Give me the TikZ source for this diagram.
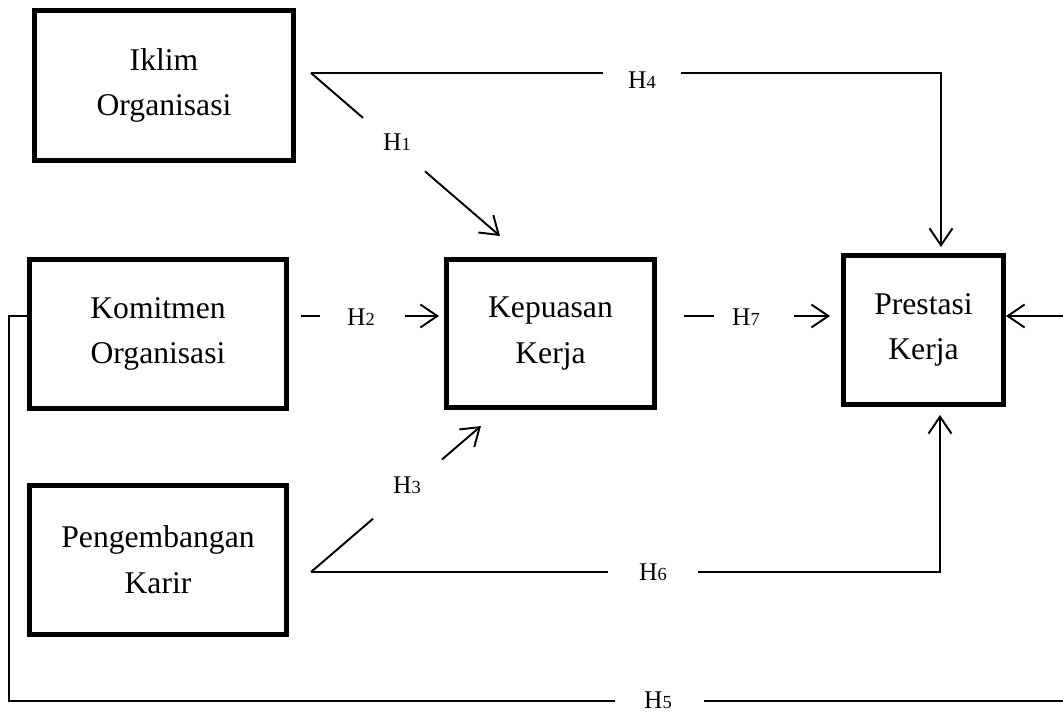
\documentclass[tikz,border=0pt]{standalone}
\usepackage{fontspec}
\setmainfont{Liberation Serif}
\usetikzlibrary{positioning, calc, arrows.meta}

\newcommand{\hlabel}[1]{{\fontsize{14.5}{16}\selectfont H}{\fontsize{10.5}{12}\selectfont #1}}

\begin{document}
\begin{tikzpicture}[
    x=0.02cm, y=-0.02cm,
    var/.style={rectangle, draw, line width=2.8pt, align=center, font={\fontsize{18}{26}\selectfont}},
    hyp/.style={inner sep=0pt},
    conn/.style={line width=1.1pt},
    tip/.style={-{Straight Barb[length=3.4mm, width=4.6mm]}}
]
\useasboundingbox (0,0) rectangle (1063,713);

% Variables
\node[var, minimum width=5.18cm, minimum height=3cm] (iklim) at (164,85.5) {Iklim\\Organisasi};
\node[var, minimum width=5.14cm, minimum height=2.98cm] (komitmen) at (158,334) {Komitmen\\Organisasi};
\node[var, minimum width=5.14cm, minimum height=2.98cm] (karir) at (158,560) {Pengembangan\\Karir};
\node[var, minimum width=4.16cm, minimum height=2.96cm] (kepuasan) at (550.5,333.5) {Kepuasan\\Kerja};
\node[var, minimum width=3.2cm, minimum height=2.98cm] (prestasi) at (923.5,330) {Prestasi\\Kerja};

% Helper points
\coordinate (row) at (0,316);
\coordinate (iklimout) at (311,73);
\coordinate (karirout) at (311,572);
\coordinate (h1tip) at (500,236);
\coordinate (h3tip) at (481,426);

% H1
\draw[conn] (iklimout) -- ($(iklimout)!0.275!(h1tip)$);
\node[hyp] (h1) at (397,142) {\hlabel{1}};
\draw[conn, tip] ($(iklimout)!0.603!(h1tip)$) -- (h1tip);

% H2
\draw[conn] (301,316) -- (320,316);
\node[hyp] (h2) at (361,317) {\hlabel{2}};
\draw[conn, tip, shorten >=1mm] (405,316) -- (kepuasan.west |- row);

% H3
\draw[conn] (karirout) -- ($(karirout)!0.365!(h3tip)$);
\node[hyp] (h3) at (407,485) {\hlabel{3}};
\draw[conn, tip] ($(karirout)!0.77!(h3tip)$) -- (h3tip);

% H4
\draw[conn] (iklimout) -- (603,73);
\node[hyp] (h4) at (642,80) {\hlabel{4}};
\draw[conn, tip, shorten >=1.2mm] (681,73) -| ([xshift=0.35cm]prestasi.north);

% H5
\draw[conn] (komitmen.west |- row) -| (9,701) -- (615,701);
\node[hyp] (h5) at (658,700) {\hlabel{5}};
\draw[conn, tip] (704,701) -| (1067,316) -- (prestasi.east |- row);

% H6
\draw[conn] (karirout) -- (608,572);
\node[hyp] (h6) at (653,572.5) {\hlabel{6}};
\draw[conn, tip, shorten >=1.6mm] (698,572) -| ([xshift=0.33cm]prestasi.south);

% H7
\draw[conn] (684,316) -- (714,316);
\node[hyp] (h7) at (746,317) {\hlabel{7}};
\draw[conn, tip, shorten >=2.2mm] (794,316) -- (prestasi.west |- row);

\end{tikzpicture}
\end{document}
